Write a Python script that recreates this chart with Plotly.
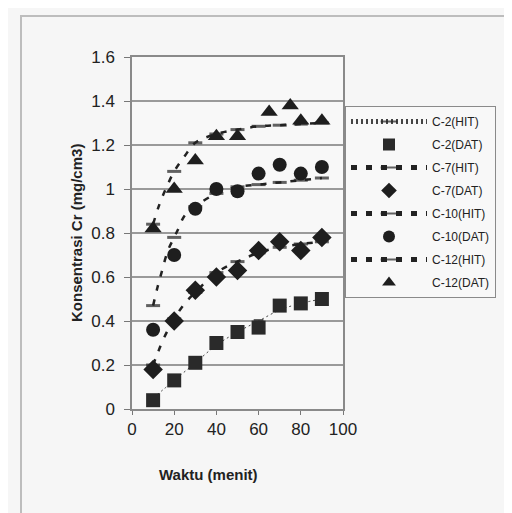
import plotly.graph_objects as go

# ---------------- data ----------------
t_dat = [10, 20, 30, 40, 50, 60, 70, 80, 90]
t_c12_dat = [10, 20, 30, 40, 50, 65, 75, 80, 90]

c2_dat = [0.04, 0.13, 0.21, 0.30, 0.35, 0.37, 0.47, 0.48, 0.50]
c7_dat = [0.18, 0.40, 0.54, 0.60, 0.63, 0.72, 0.76, 0.72, 0.78]
c10_dat = [0.36, 0.70, 0.91, 1.00, 0.99, 1.07, 1.11, 1.07, 1.10]
c12_dat = [0.82, 1.00, 1.13, 1.24, 1.24, 1.35, 1.38, 1.31, 1.31]

t_c2_hit = [10, 20, 30, 40, 50, 60, 70, 80, 90]
c2_hit = [0.05, 0.13, 0.21, 0.29, 0.35, 0.40, 0.45, 0.48, 0.50]

t_c7_hit = [10, 12, 15, 20, 25, 30, 40, 50, 60, 70, 80, 90]
c7_hit = [0.20, 0.25, 0.32, 0.41, 0.48, 0.53, 0.62, 0.67, 0.71, 0.735, 0.75, 0.76]

t_c10_hit = [10, 12, 14, 17, 20, 22, 25, 30, 40, 50, 60, 70, 80, 90]
c10_hit = [0.47, 0.55, 0.62, 0.72, 0.78, 0.82, 0.88, 0.92, 0.98, 1.01, 1.02, 1.03, 1.04, 1.05]

t_c12_hit = [10, 13, 16, 20, 25, 30, 40, 50, 60, 70, 80, 90]
c12_hit = [0.84, 0.93, 1.00, 1.08, 1.15, 1.21, 1.25, 1.27, 1.285, 1.29, 1.295, 1.30]

y_ticks = [0, 0.2, 0.4, 0.6, 0.8, 1.0, 1.2, 1.4, 1.6]
y_tick_text = ["0", "0.2", "0.4", "0.6", "0.8", "1", "1.2", "1.4", "1.6"]
x_ticks = [0, 20, 40, 60, 80, 100]

# ---------------- style ----------------
INK = "#222222"
FONT = "Liberation Sans, Arial, sans-serif"


def hit_sizes(xs, s):
    return [s if x % 10 == 0 else 0 for x in xs]


fig = go.Figure()

fig.add_trace(go.Scatter(
    x=t_c2_hit, y=c2_hit, name="C-2(HIT)", mode="lines+markers",
    line=dict(color="#444444", width=1, dash="2px,3px", shape="spline"),
    marker=dict(symbol="line-ew", size=hit_sizes(t_c2_hit, 7),
                line=dict(color=INK, width=4), color=INK),
    legendgroup="a"))
fig.add_trace(go.Scatter(
    x=t_dat, y=c2_dat, name="C-2(DAT)", mode="markers",
    marker=dict(symbol="square", size=14, color="#2a2a2a"), legendgroup="b"))
fig.add_trace(go.Scatter(
    x=t_c7_hit, y=c7_hit, name="C-7(HIT)", mode="lines+markers",
    line=dict(color=INK, width=2.5, dash="6px,9px", shape="spline"),
    marker=dict(symbol="line-ew", size=hit_sizes(t_c7_hit, 10),
                line=dict(color=INK, width=3), color=INK),
    legendgroup="c"))
fig.add_trace(go.Scatter(
    x=t_dat, y=c7_dat, name="C-7(DAT)", mode="markers",
    marker=dict(symbol="diamond", size=15, color="#1e1e1e"), legendgroup="d"))
fig.add_trace(go.Scatter(
    x=t_c10_hit, y=c10_hit, name="C-10(HIT)", mode="lines+markers",
    line=dict(color=INK, width=2.5, dash="6px,9px", shape="spline"),
    marker=dict(symbol="line-ew", size=hit_sizes(t_c10_hit, 10),
                line=dict(color=INK, width=3), color=INK),
    legendgroup="e"))
fig.add_trace(go.Scatter(
    x=t_dat, y=c10_dat, name="C-10(DAT)", mode="markers",
    marker=dict(symbol="circle", size=14, color="#1e1e1e"), legendgroup="f"))
fig.add_trace(go.Scatter(
    x=t_c12_hit, y=c12_hit, name="C-12(HIT)", mode="lines+markers",
    line=dict(color=INK, width=2.5, dash="6px,9px", shape="spline"),
    marker=dict(symbol="line-ew", size=hit_sizes(t_c12_hit, 10),
                line=dict(color=INK, width=3), color=INK),
    legendgroup="g"))
fig.add_trace(go.Scatter(
    x=t_c12_dat, y=c12_dat, name="C-12(DAT)", mode="markers",
    marker=dict(symbol="triangle-up", size=15, color="#1e1e1e"), legendgroup="h"))

L, R, T, B = 124, 177, 49, 112
W, H = 512, 513
pw, ph = W - L - R, H - T - B


def px_x(p):
    return (p - L) / pw


def px_y(p):
    return (H - B - p) / ph


fig.update_layout(
    width=W, height=H,
    margin=dict(l=L, r=R, t=T, b=B, pad=0),
    paper_bgcolor="#f6f6f6",
    plot_bgcolor="#f8f8f8",
    font=dict(family=FONT, color=INK),
    showlegend=True,
    legend=dict(
        x=px_x(337), y=px_y(98), xanchor="left", yanchor="top",
        bgcolor="#f8f8f8", bordercolor="#8a8a8a", borderwidth=1,
        font=dict(family=FONT, size=12, color=INK),
        itemwidth=76, itemsizing="constant",
        traceorder="grouped", tracegroupgap=4,
    ),
    xaxis=dict(
        range=[0, 100], tickvals=x_ticks, showgrid=False, zeroline=False,
        showline=True, linecolor="#8a8a8a", linewidth=1.5, mirror=True,
        ticks="outside", ticklen=4, tickcolor="#777777",
        tickfont=dict(family=FONT, size=17, color=INK),
    ),
    yaxis=dict(
        range=[0, 1.6], tickvals=y_ticks, ticktext=y_tick_text,
        showgrid=True, gridcolor="#9a9a9a", gridwidth=2, zeroline=False,
        showline=True, linecolor="#8a8a8a", linewidth=1.5, mirror=True,
        ticks="outside", ticklen=6, tickcolor="#777777",
        ticklabelstandoff=6,
        tickfont=dict(family=FONT, size=17, color=INK),
    ),
    annotations=[
        dict(text="<b>Konsentrasi Cr (mg/cm3)</b>", textangle=-90,
             x=px_x(68), y=0.5, xref="paper", yref="paper",
             xanchor="center", yanchor="middle", showarrow=False,
             font=dict(family=FONT, size=15, color=INK)),
        dict(text="<b>Waktu (menit)</b>",
             x=px_x(200), y=px_y(466), xref="paper", yref="paper",
             xanchor="center", yanchor="middle", showarrow=False,
             font=dict(family=FONT, size=15, color=INK)),
    ],
    shapes=[
        dict(type="rect", xref="paper", yref="paper",
             x0=px_x(13), x1=px_x(506), y0=px_y(507), y1=px_y(8),
             line=dict(color="#bdbdbd", width=2), fillcolor="rgba(0,0,0,0)",
             layer="below"),
    ],
)

fig.write_html("out.html")
